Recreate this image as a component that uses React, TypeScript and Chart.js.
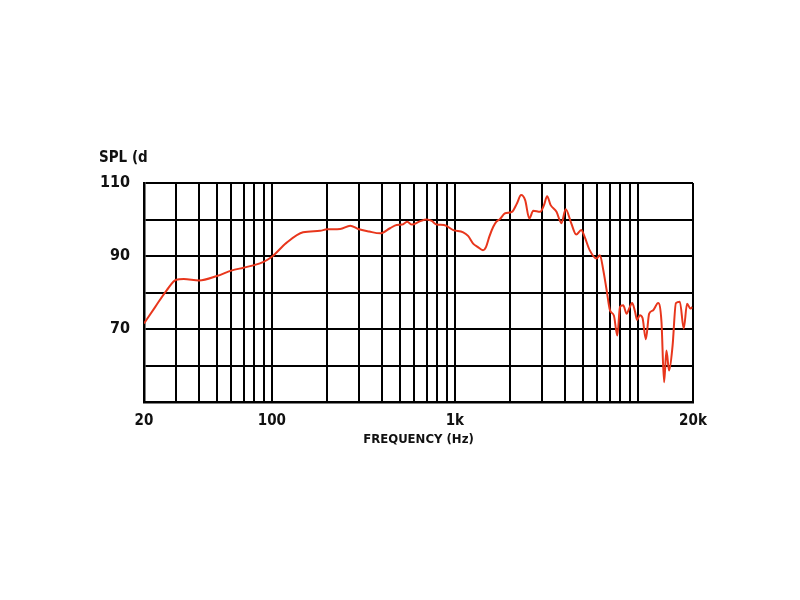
import React, { useEffect, useRef } from "react";
import { Chart, registerables } from "chart.js";

Chart.register(...registerables);

// Frequency response data (Hz, dB SPL)
const freqs = [
  20, 23, 26.6, 30, 33, 40, 50, 60, 70, 80, 90, 100, 120, 148, 183, 200, 236, 268, 296, 340,
  390, 442, 480, 514, 549, 582, 643, 701, 747, 796, 872, 980, 1110, 1180, 1258, 1330, 1424,
  1480, 1542, 1620, 1686, 1760, 1880, 2048, 2182, 2300, 2420, 2550, 2680, 2920, 3070, 3190,
  3330, 3590, 3820, 4030, 4320, 4600, 4900, 5110, 5450, 5940, 6200, 6470, 6750, 7040, 7390,
  7720, 7980, 8310, 8680, 8960, 9300, 9620, 9900, 10250, 10600, 11050, 11520, 12100, 12900,
  13450, 13900, 14320, 14800, 15460, 16130, 16950, 17800, 18560, 19340, 19800,
];
const spl = [
  71.5, 76, 80.6, 83.5, 83.7, 83.3, 84.5, 86, 86.8, 87.5, 88.4, 89.8, 93.6, 96.5, 96.9, 97.3,
  97.4, 98.3, 97.4, 96.7, 96.2, 97.6, 98.5, 98.6, 99.4, 98.6, 99.5, 100, 99.6, 98.6, 98.5,
  97.1, 96.5, 95.5, 93.4, 92.5, 91.6, 92.5, 95.3, 98, 99.4, 100.1, 101.7, 102.1, 104.4, 106.7,
  105.3, 100.3, 102.4, 102.1, 104, 106.4, 104, 102.1, 99, 102.8, 99, 95.9, 97.1, 95.3, 91.6,
  89.3, 90.2, 86.1, 80.6, 75.1, 73.7, 68.2, 76, 76.5, 74.2, 75.6, 77.1, 75, 72.5, 73.8, 73,
  67.2, 74.2, 75.1, 77.1, 72, 55.4, 64.1, 58.6, 65.3, 77.1, 77.5, 70.1, 76.9, 75.6, 76,
];

// Grid lines of the log frequency axis
const gridFreqs = [
  20, 30, 40, 50, 60, 70, 80, 90, 100, 200, 300, 400, 500, 600, 700, 800, 900, 1000, 2000,
  3000, 4000, 5000, 6000, 7000, 8000, 9000, 10000, 20000,
];
const xTickValues = [20, 100, 1000, 20000];
const xTickLabels = ["20", "100", "1k", "20k"];
const yTickLabelValues = [110, 90, 70];

const yTitle = "SPL (d";
const xTitle = "FREQUENCY (Hz)";

const FONT = "'DejaVu Sans Condensed', 'DejaVu Sans', sans-serif";

export default function App() {
  const ref = useRef<HTMLCanvasElement | null>(null);

  useEffect(() => {
    if (!ref.current) return;
    const titlePlugin = {
      id: "splTitle",
      afterDraw(chart: any) {
        const ctx = chart.ctx;
        ctx.save();
        ctx.font = `condensed bold 15px ${FONT}`;
        ctx.fillStyle = "#111";
        ctx.textAlign = "left";
        ctx.textBaseline = "alphabetic";
        ctx.fillText(yTitle, 99, 162);
        ctx.restore();
      },
    };
    const chart = new Chart(ref.current, {
      type: "line",
      data: {
        datasets: [
          {
            data: freqs.map((f, i) => ({ x: f, y: spl[i] })),
            borderColor: "#e8361c",
            borderWidth: 2,
            pointRadius: 0,
            cubicInterpolationMode: "monotone",
            fill: false,
          },
        ],
      },
      options: {
        responsive: false,
        animation: false,
        devicePixelRatio: 1,
        layout: { padding: { left: 100, right: 107, top: 183, bottom: 148 } },
        plugins: { legend: { display: false }, tooltip: { enabled: false } },
        scales: {
          x: {
            type: "logarithmic",
            min: 20,
            max: 20000,
            afterBuildTicks: (scale: any) => {
              scale.ticks = gridFreqs.map((v) => ({ value: v }));
            },
            afterFit: (scale: any) => {
              scale.height = 50;
            },
            grid: { color: "#000", lineWidth: 2, drawTicks: false },
            border: { display: true, color: "#000", width: 2.5 },
            ticks: {
              autoSkip: false,
              maxRotation: 0,
              padding: 10,
              color: "#111",
              font: { family: FONT, size: 15, weight: "bold", style: "condensed" },
              callback: (value: any) => {
                const i = xTickValues.indexOf(Number(value));
                return i >= 0 ? xTickLabels[i] : "";
              },
            },
            title: {
              display: true,
              text: xTitle,
              color: "#111",
              font: { family: FONT, size: 13, weight: "bold", style: "condensed", lineHeight: 1.2 },
              padding: { top: 0, bottom: 5 },
            },
          },
          y: {
            type: "linear",
            min: 50,
            max: 110,
            afterFit: (scale: any) => {
              scale.width = 44;
            },
            grid: { color: "#000", lineWidth: 2, drawTicks: false },
            border: { display: true, color: "#000", width: 2.5 },
            ticks: {
              stepSize: 10,
              padding: 14,
              color: "#111",
              font: { family: FONT, size: 16, weight: "bold", style: "condensed" },
              callback: (value: any) =>
                yTickLabelValues.includes(Number(value)) ? String(value) : "",
            },
          },
        },
      },
      plugins: [titlePlugin],
    } as any);
    return () => chart.destroy();
  }, []);

  return (
    <div style={{ position: "fixed", left: 0, top: 0, width: 800, height: 600, background: "#fff" }}>
      <canvas ref={ref} width={800} height={600} style={{ display: "block" }} />
    </div>
  );
}
